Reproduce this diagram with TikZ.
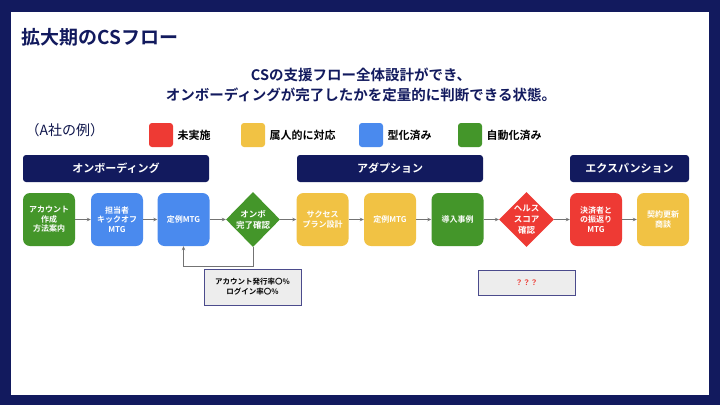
\documentclass[tikz,border=0pt]{standalone}
\usepackage{fontspec}
\setmainfont{Noto Sans CJK JP}[BoldFont={Noto Sans CJK JP Bold}]
\usetikzlibrary{shapes.geometric,arrows.meta}
\definecolor{navy}{RGB}{18,26,94}
\definecolor{cred}{RGB}{238,58,52}
\definecolor{cyel}{RGB}{241,194,68}
\definecolor{cblue}{RGB}{74,138,238}
\definecolor{cgreen}{RGB}{68,150,42}
\definecolor{edge}{RGB}{75,75,140}
\tikzset{box/.style={rectangle,rounded corners=7pt,minimum width=52pt,minimum height=53pt,inner sep=1pt,text=white,font=\bfseries\fontsize{8}{9.5}\selectfont,align=center}}
\tikzset{dia/.style={diamond,minimum width=54pt,minimum height=55pt,inner sep=0pt,text=white,font=\bfseries\fontsize{8.5}{11}\selectfont,align=center}}
\tikzset{phase/.style={rectangle,rounded corners=3pt,fill=navy,minimum height=27pt,text=white,font=\bfseries\fontsize{11}{13}\selectfont}}
\tikzset{key/.style={rectangle,rounded corners=3pt,minimum width=24pt,minimum height=24pt}}
\tikzset{keytext/.style={anchor=west,font=\bfseries\fontsize{11}{13}\selectfont}}
\tikzset{note/.style={rectangle,draw=edge,fill=black!7,line width=0.8pt,minimum width=97pt,font=\bfseries\fontsize{7.5}{10}\selectfont,align=center}}
\tikzset{flow/.style={draw=black!55,line width=0.8pt,-{Stealth[length=4pt,width=3.5pt]}}}

\begin{document}
\begin{tikzpicture}[x=1pt,y=-1pt]
      \fill[navy] (0,0) rectangle (720,405);
      \fill[white] (11,12) rectangle (709,395);
      \node[anchor=west,text=navy,font=\bfseries\fontsize{19}{21}\selectfont] (title) at (18,37) {拡大期のCSフロー};
      \node[text=navy,align=center,font=\bfseries\fontsize{14.5}{20}\selectfont] (sub) at (361,85) {CSの支援フロー全体設計ができ、\\オンボーディングが完了したかを定量的に判断できる状態。};
      \node[anchor=west,text=navy!80!black,font=\fontsize{14}{16}\selectfont] (ex) at (22,130) {（A社の例）};
      \node[key,fill=cred] (k1) at (161,135) {};
      \node[keytext] (t1) at (174,135) {未実施};
      \node[key,fill=cyel] (k2) at (253,135) {};
      \node[keytext] (t2) at (266,135) {属人的に対応};
      \node[key,fill=cblue] (k3) at (371,135) {};
      \node[keytext] (t3) at (384,135) {型化済み};
      \node[key,fill=cgreen] (k4) at (470,135) {};
      \node[keytext] (t4) at (483,135) {自動化済み};
      \node[phase,minimum width=186pt] (p1) at (116,168.5) {オンボーディング};
      \node[phase,minimum width=186pt] (p2) at (390,168.5) {アダプション};
      \node[phase,minimum width=119pt] (p3) at (629.5,168.5) {エクスパンション};
      \node[box,fill=cgreen] (acct) at (49,219.5) {アカウント\\作成\\方法案内};
      \node[box,fill=cblue] (kick) at (117,219.5) {担当者\\キックオフ\\MTG};
      \node[box,fill=cblue] (mtga) at (183.5,219.5) {定例MTG};
      \node[dia,fill=cgreen] (onbo) at (253,219.5) {オンボ\\完了確認};
      \node[box,fill=cyel] (plan) at (322.5,219.5) {サクセス\\プラン設計};
      \node[box,fill=cyel] (mtgb) at (390,219.5) {定例MTG};
      \node[box,fill=cgreen] (case) at (457.5,219.5) {導入事例};
      \node[dia,fill=cred] (health) at (526.5,219.5) {ヘルス\\スコア\\確認};
      \node[box,fill=cred] (review) at (596,219.5) {決済者と\\の振返り\\MTG};
      \node[box,fill=cyel] (renew) at (663,219.5) {契約更新\\商談};
      \foreach \a/\b in {acct/kick,kick/mtga,mtga/onbo,onbo/plan,plan/mtgb,mtgb/case,case/health,health/review,review/renew}
        \draw[flow] (\a) -- (\b);
      \draw[flow] (onbo.south) -- ++(0,19) -| (mtga.south);
      \node[note,minimum height=36pt] (n1) at (252.5,287) {アカウント発行率〇\%\\ログイン率〇\%};
      \node[note,minimum height=25pt,text=cred] (n2) at (526.5,282.5) {？？？};
    \end{tikzpicture}
\end{document}
